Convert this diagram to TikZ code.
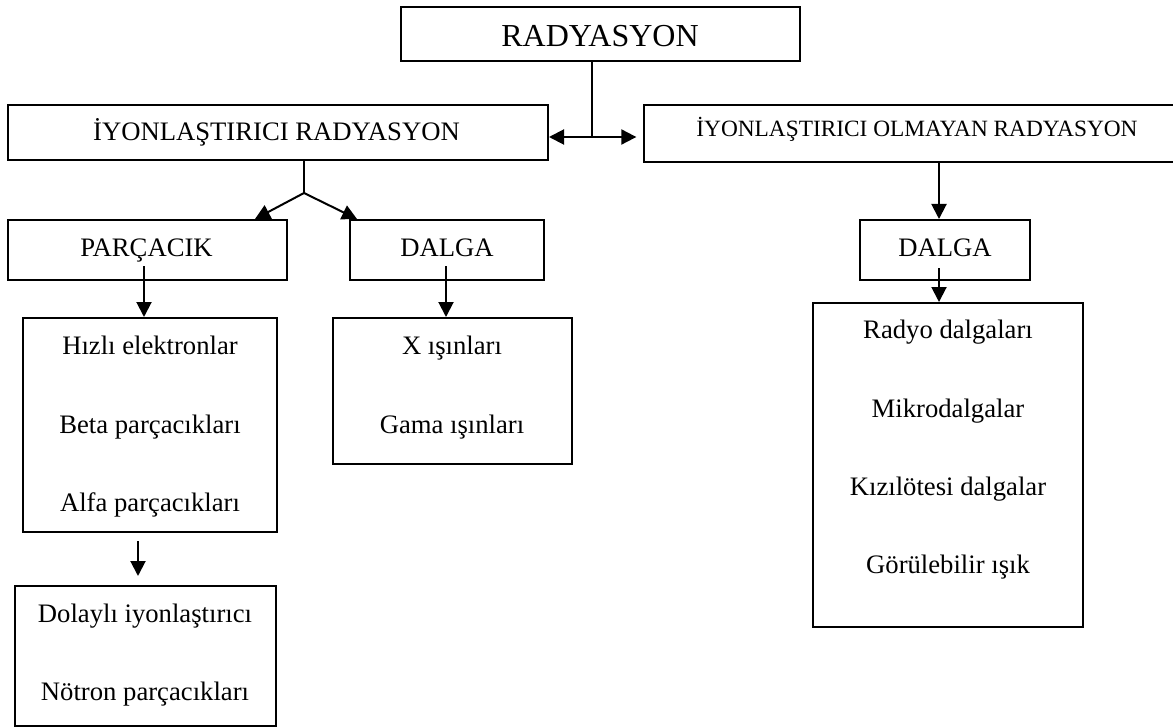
\documentclass[tikz,border=0pt]{standalone}
\usepackage{fontspec}
\setmainfont{Liberation Serif}
\usetikzlibrary{arrows.meta}
\newcommand\mybox[5]{\node[box, minimum width=#4*0.75pt, minimum height=#5*0.75pt] (#1) at (#2,#3) {};}
\begin{document}
\begin{tikzpicture}[x=0.75pt,y=-0.75pt,
  box/.style={draw, line width=1.5pt, fill=white, inner sep=0pt, rectangle},
  lbl/.style={anchor=base, inner sep=0pt, font=\fontsize{20}{24}\selectfont},
  arr/.style={line width=1.5pt, -{Triangle[length=11.25pt,width=11.25pt]}},
  darr/.style={line width=1.5pt, {Triangle[length=11.25pt,width=11.25pt]}-{Triangle[length=11.25pt,width=11.25pt]}},
  ln/.style={line width=1.5pt}]
\useasboundingbox (0,0) rectangle (1173,727);
% boxes
\mybox{rad}{600.5}{34}{399}{54}
\mybox{ion}{278}{132.5}{540}{55}
\mybox{non}{917}{133.5}{546}{57}
\mybox{parc}{147.5}{250}{279}{60}
\mybox{dalA}{447}{250}{194}{60}
\mybox{dalB}{945}{250}{170}{60}
\mybox{hiz}{150}{425}{254}{214}
\mybox{xis}{452.5}{391}{239}{146}
\mybox{dol}{145.5}{656}{261}{140}
\mybox{rdy}{948}{465}{270}{324}
% texts
\node[lbl, font=\fontsize{24}{28}\selectfont] (t0) at (600,47) {RADYASYON};
\node[lbl] (t1) at (276.5,141) {İYONLAŞTIRICI RADYASYON};
\node[lbl, font=\fontsize{17.5}{21}\selectfont] (t2) at (917,137) {İYONLAŞTIRICI OLMAYAN RADYASYON};
\node[lbl] (t3) at (146.5,256) {PARÇACIK};
\node[lbl] (t4) at (447,256) {DALGA};
\node[lbl] (t5) at (945,256) {DALGA};
\node[lbl] (t6) at (150,354) {Hızlı elektronlar};
\node[lbl] (t7) at (150,433) {Beta parçacıkları};
\node[lbl] (t8) at (150,511) {Alfa parçacıkları};
\node[lbl] (t9) at (452,354) {X ışınları};
\node[lbl] (t10) at (452,433) {Gama ışınları};
\node[lbl] (t11) at (145,622) {Dolaylı iyonlaştırıcı};
\node[lbl] (t12) at (145,700) {Nötron parçacıkları};
\node[lbl] (t13) at (948,338) {Radyo dalgaları};
\node[lbl] (t14) at (948,417) {Mikrodalgalar};
\node[lbl] (t15) at (948,495) {Kızılötesi dalgalar};
\node[lbl] (t16) at (948,573) {Görülebilir ışık};
% helper coordinates
\coordinate (jn) at (592,137);
\coordinate (br) at (304,193);
\coordinate (tl) at (255,0);
\coordinate (tr) at (357,0);
\coordinate (a1) at (144,0);
\coordinate (a2) at (446,0);
\coordinate (a3) at (138,0);
\coordinate (a4) at (939,0);
% connectors
\draw[ln] (rad.south -| jn) -- (jn);
\draw[darr, shorten >=5pt] (ion.east |- jn) -- (non.west |- jn);
\draw[ln] (ion.south -| br) -- (br);
\draw[arr] (br) -- (parc.north -| tl);
\draw[arr] (br) -- (dalA.north -| tr);
\draw[arr] ([yshift=11.25pt]parc.south -| a1) -- (hiz.north -| a1);
\draw[arr] ([yshift=11.25pt]dalA.south -| a2) -- (xis.north -| a2);
\draw[arr] ([yshift=-6pt]hiz.south -| a3) -- ([yshift=6.75pt]dol.north -| a3);
\draw[arr] (non.south -| a4) -- (dalB.north -| a4);
\draw[arr] ([yshift=9.75pt]dalB.south -| a4) -- (rdy.north -| a4);
\end{tikzpicture}
\end{document}
